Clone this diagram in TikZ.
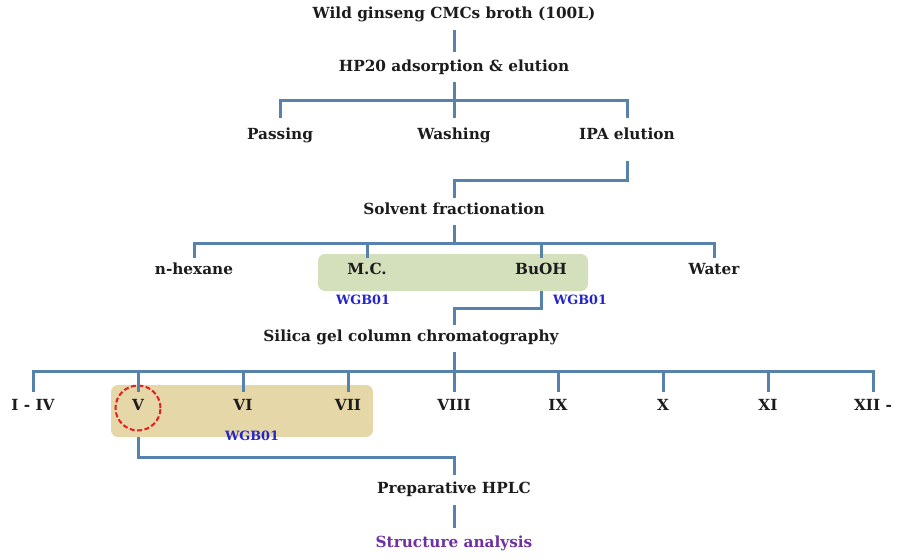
\documentclass[tikz,border=0pt]{standalone}
\usepackage{fontspec}
\setmainfont{DejaVu Serif}
\usepackage{xcolor}
\usetikzlibrary{positioning, backgrounds, calc}
\definecolor{WireBlue}{HTML}{5682AC}
\definecolor{InkDark}{HTML}{1C1C1C}
\definecolor{TagBlue}{HTML}{2424C8}
\definecolor{ResPurple}{HTML}{7030A0}
\definecolor{SolFill}{HTML}{D4DFBC}
\definecolor{FracFill}{HTML}{E6D7A8}
\definecolor{MarkRed}{HTML}{E02020}

\begin{document}
\begin{tikzpicture}[
    x=1pt, y=-1pt,
    font=\fontsize{15.3}{17}\selectfont\bfseries,
    lbl/.style={
      inner sep=0pt,
      text height=11pt,
      text depth=3.5pt,
      text=InkDark,
    },
    tag/.style={
      inner sep=0pt,
      font=\fontsize{12.8}{14}\selectfont\bfseries,
      text=TagBlue,
    },
    wire/.style={
      draw=WireBlue,
      line width=3pt,
    },
    gap/.style={
      shorten <=7.5pt,
      shorten >=8.5pt,
    },
    panel/.style={
      rounded corners=7pt,
      inner sep=0pt,
    },
  ]
    \useasboundingbox (0,0) rectangle (904,559);

    \node[lbl] (title) at (454,15) {Wild ginseng CMCs broth (100L)};
    \node[lbl] (hp20) at (454,68) {HP20 adsorption \& elution};

    \node[lbl] (passing) at (280,136) {Passing};
    \node[lbl] (washing) at (454,136) {Washing};
    \node[lbl] (ipa) at (627,136) {IPA elution};

    \node[lbl] (solvent) at (454,211) {Solvent fractionation};

    \node[lbl] (hexane) at (194,271) {n-hexane};
    \node[lbl] (mc) at (367,271) {M.C.};
    \node[lbl] (buoh) at (541,271) {BuOH};
    \node[lbl] (water) at (714,271) {Water};
    \node[tag] (wgbA) at (363,300) {WGB01};
    \node[tag] (wgbB) at (580,300) {WGB01};

    \node[lbl] (silica) at (411,338) {Silica gel column chromatography};

    \foreach \n/\t/\x in {f1/I - IV/33, f2/V/138, f3/VI/243, f4/VII/348,
        f5/VIII/454, f6/IX/558, f7/X/663, f8/XI/768, f9/XII -/873} {
      \node[lbl] (\n) at (\x,407) {\t};
    }
    \node[tag] (wgbC) at (252,436) {WGB01};
    \node[circle, draw=MarkRed, dash pattern=on 5pt off 2.5pt,
      line width=2pt, minimum size=45pt] (mark) at (138,408) {};

    \node[lbl] (hplc) at (454,490) {Preparative HPLC};
    \node[lbl, text=ResPurple] (struct) at (454,544) {Structure analysis};

    \begin{scope}[on background layer]
      \node[panel, fill=SolFill, minimum width=270pt, minimum height=37pt]
        (solbox) at (453,272.5) {};
      \node[panel, fill=FracFill, minimum width=262pt, minimum height=52pt]
        (fracbox) at (242,411) {};
    \end{scope}

    % split points of the bars
    \coordinate (b1) at (454,101);
    \coordinate (b2) at (454,180);
    \coordinate (b3) at (454,243);
    \coordinate (b4) at (454,308);
    \coordinate (b5) at (454,371);
    \coordinate (b6) at (454,457);

    \draw[wire, gap] (title) -- (hp20);
    \draw[wire, shorten <=6.75pt] (hp20) -- (b1);
    \draw[wire, shorten <=10.75pt, shorten >=10.75pt]
      (passing) |- (b1) -| (ipa);
    \draw[wire, shorten >=10.75pt] (b1) -- (washing);

    \draw[wire, shorten <=18pt, shorten >=6pt]
      (ipa.south) |- (b2) -- (solvent);

    \draw[wire, shorten <=6.75pt] (solvent) -- (b3);
    \draw[wire, shorten <=6pt, shorten >=6pt] (hexane) |- (b3) -| (water);
    \foreach \n in {mc,buoh} {
      \draw[wire, shorten >=6pt] (\n |- b3) -- (\n);
    }

    \draw[wire, shorten <=12.75pt, shorten >=6pt]
      (buoh.south) |- (b4) -- (b4 |- silica.north);

    \draw[wire, shorten <=6.75pt] (b5 |- silica.south) -- (b5);
    \draw[wire, shorten <=7.75pt, shorten >=7.75pt] (f1) |- (b5) -| (f9);
    \foreach \n in {f2,f3,f4,f5,f6,f7,f8} {
      \draw[wire, shorten >=7.75pt] (\n |- b5) -- (\n);
    }

    \draw[wire, shorten <=22.75pt, shorten >=7.75pt]
      (f2.south) |- (b6) -- (hplc);
    \draw[wire, gap] (hplc) -- (struct);
  \end{tikzpicture}
\end{document}
